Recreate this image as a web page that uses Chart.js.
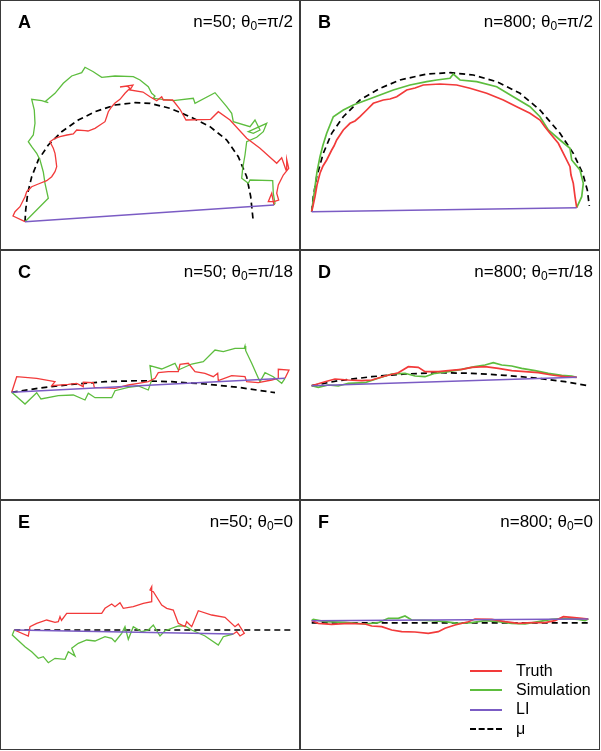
<!DOCTYPE html>
<html>
<head>
<meta charset="utf-8">
<script src="https://cdn.jsdelivr.net/npm/chart.js@4/dist/chart.umd.min.js"></script>
<style>
html,body{margin:0;padding:0;background:#fff;}
#fig{position:relative;width:601px;height:751px;overflow:hidden;background:#fff;font-family:"Liberation Sans",Arial,sans-serif;color:#000;}
canvas{position:absolute;}
.box{position:absolute;box-sizing:border-box;border:1px solid #3a3a3a;pointer-events:none;}
.lab{position:absolute;font-size:18px;font-weight:bold;line-height:20px;}
.ttl{position:absolute;font-size:17px;line-height:20px;text-align:right;white-space:nowrap;}
.ttl sub{font-size:12px;vertical-align:-3px;line-height:0;}
.lg{position:absolute;font-size:16px;line-height:20px;white-space:nowrap;}
.sw{position:absolute;width:32px;height:0;}
</style>
</head>
<body>
<div id="fig"></div>
<script>
// ---- data (figure pixel units) ----
const panelLabels = ['A','B','C','D','E','F'];
const panelN = ['50','800','50','800','50','800'];
const panelTheta = ['π/2','π/2','π/18','π/18','0','0'];
const legendLabels = ['Truth','Simulation','LI','μ'];

const truthA = [[25,221.7],[13,216],[15,211.7],[20,206.7],[25,196.7],[26.7,191.7],[31.7,186.7],[38.3,184],[46.7,180.7],[51.7,176.7],[55,171.7],[56.7,166.7],[55.7,158.3],[55,153.3],[53.3,148.3],[50,141.7],[55,138.3],[60,136.7],[67,135],[73.3,134],[76.7,130],[85,130.7],[88,131],[95,128.3],[100,125],[105,121.7],[106.7,116.7],[108.3,111.7],[111.7,106.7],[115,103],[120,99.3],[125,93.3],[130,88.3],[127,86],[120,87],[133,85],[130,90],[143,92],[150,96.7],[156.7,100.7],[161.7,96.7],[163.3,100],[172.7,100],[180,109.3],[186,120],[210.7,119.3],[218.3,111.7],[230,120],[246.7,138.3],[260,148.3],[276.7,163.3],[281.7,157.7],[286,170],[286.7,159.3],[288.7,168.3],[283.3,175],[278.3,185],[276.7,193.3],[278.7,200],[274,201.7],[268.3,201.7],[271.7,193.3],[274,205]];
const simA = [[25,221.7],[48.3,198.3],[45,183.3],[43.3,172],[40,160],[36.7,153.3],[31.7,146.7],[28.3,141.7],[33.3,135],[35,123.3],[34.3,110],[31.7,99.3],[41.7,100.7],[48.3,102.7],[45,101.7],[55,93.3],[63.3,83.3],[71.7,76],[81.7,72.7],[85,67.3],[93.3,71.7],[101.7,77.3],[115,76],[133.3,76.7],[140,80],[148.3,86.7],[151.7,93.3],[155,96],[153.3,98.3],[173.3,100.7],[193.3,98.3],[195,103.3],[215,92.7],[226.7,106.7],[231.7,113.3],[233.3,121.7],[250,126.7],[255,120],[260,130],[253.3,133.3],[248.3,131.7],[266.7,123.3],[263.3,131.7],[256.7,137.3],[246.7,141.7],[245,155],[242.7,168.3],[241.7,178.3],[248.3,183.3],[250,180],[272.7,180.7],[273.3,193.3],[275,203.3],[274,205]];
const liA = [[25,221.7],[274,205]];
const muA = [[25,221.7],[25.7,210],[27.7,193.3],[31.7,176.7],[38.3,160],[48.3,145],[61.7,131.7],[78.3,120],[95,111.7],[115,105],[135,102.7],[150,103.3],[170,108.3],[190,116.7],[210,126.7],[226.7,140],[238.3,156.7],[246.7,176.7],[250.7,196.7],[253.3,221.7]];

const truthB = [[311.7,211.7],[315,196.7],[317,185],[320,173.3],[323,166],[326.7,160],[331.7,150],[334,146],[336.7,140],[343.3,130],[350,123.3],[355,121],[360,116.7],[366.7,110],[373.3,103.3],[383.3,100],[390,99],[396.7,96.7],[406.7,90],[415,88],[423.3,85],[440,84],[456.7,85],[470,88.3],[486.7,93.3],[503.3,100],[516.7,106.7],[530,113.3],[540,120],[545,127],[550,133.3],[558.3,143.3],[565,156.7],[570,166.7],[571,175],[573.3,183.3],[575,196.7],[576.7,207.7]];
const simB = [[311.7,211.7],[315,186.7],[317,172],[320,156.7],[323,145],[326.7,133.3],[333.3,116.7],[343.3,110],[353.3,105],[366.7,100],[380,95],[393.3,90],[410,85],[426.7,81.7],[436.7,80],[450,78.3],[453.3,74],[460,80],[476.7,81.7],[496.7,86.7],[513.3,96.7],[530,106.7],[540,116.7],[548.3,130],[560,140],[570,148.3],[571.7,160],[580,170],[583.3,183.3],[581.7,196.7],[576.7,207.7]];
const liB = [[311.7,211.7],[576.7,207.7]];
const muB = [[311.7,211.7],[313.3,196.7],[316.7,176.7],[323.3,153.3],[331.7,133.3],[343.3,116.7],[360,100],[380,88.3],[400,80],[426.7,74],[450,72.7],[473.3,75],[496.7,81.7],[520,93.3],[540,110],[560,133.3],[573.3,153.3],[582.7,173.3],[587.3,190],[589.3,206]];

const truthC = [[11.7,392.3],[16.7,376.7],[36.7,378.3],[55,381.7],[51.7,385.7],[68.3,384.3],[76.7,383.3],[83.3,386.7],[83.3,382.3],[93.3,382.7],[94.3,387.3],[115,388.3],[128.3,385],[138.3,383.3],[148.3,381.7],[155,378.3],[158.3,372.7],[168.3,371.7],[178.3,371.7],[180,364.3],[188.3,363.3],[195,371.7],[205,373.3],[213.3,376.7],[217.7,373.3],[218.3,380.7],[231.7,375.7],[245,376.7],[246.7,381.7],[258.3,382.7],[271.7,380],[278.3,378.3],[278.3,369.3],[289,370],[285,378.3]];
const simC = [[11.7,392.3],[25,404],[36.7,392.7],[41,399],[58.3,395.7],[73.3,395],[85,400],[88.3,393.3],[95,397.7],[111.7,397.7],[115,390.7],[128.3,387.3],[138.3,386],[148.3,390],[151.7,380],[150,365.7],[161.7,369],[175,363.3],[178.3,370],[191.7,364],[203.3,361.7],[215,350],[223.3,351.7],[235,348.3],[244.3,348.3],[245,346],[245.7,350.7],[251.7,363.3],[257.7,376.7],[260,381.7],[265,372.7],[273.3,376.7],[281.7,383.3],[285,378.3]];
const liC = [[11.7,392.3],[285,378.3]];
const muC = [[11.7,392.3],[38.3,388.3],[71.7,384.3],[105,381.7],[138.3,380.7],[171.7,381.7],[205,384],[238.3,387.3],[275,392.7]];

const truthD = [[311.7,385.7],[325,381.7],[335,379],[348.3,380],[361.7,380.7],[371.7,380],[385,376],[398.3,372.7],[408.3,366.7],[418.3,367.3],[425,371.7],[438.3,371.7],[448.3,370.7],[461.7,369.3],[471.7,367.3],[485,366.7],[498.3,368.3],[511.7,370.7],[525,371.7],[538.3,372.7],[551.7,375],[565,376.7],[576.7,377.3]];
const simD = [[311.7,385.7],[318.3,387.3],[328.3,385],[338.3,386],[348.3,383.3],[365,382.7],[378.3,378.3],[391.7,374],[405,373.3],[415,376],[425,376.7],[435,373.3],[448.3,371.7],[461.7,369.3],[475,366.7],[485,365],[493.3,362.7],[501.7,365],[511.7,366],[521.7,368.3],[535,370.7],[548.3,373.3],[561.7,375.3],[571.7,376],[576.7,377.3]];
const liD = [[311.7,385.7],[576.7,377.3]];
const muD = [[311.7,385.7],[338.3,380.7],[371.7,376.7],[405,374],[438.3,372.7],[471.7,373.3],[505,375.3],[538.3,378.3],[565,381.7],[590,386]];

const truthE = [[14.3,630],[28.3,636],[30,626.7],[36.7,623.3],[46.7,620],[55,622.3],[58.3,621.7],[60,616.7],[61.5,620.5],[66.7,613.3],[85,613.3],[101.7,613.3],[105,608.3],[111.7,604],[115,606.7],[120,602.7],[123.3,608.3],[133.3,606.7],[143.3,603.3],[151.7,601.7],[151.7,586.7],[150,590],[153.3,591.7],[161.7,605],[166.7,608.3],[173.3,610],[178.3,623.3],[185,626.7],[186.7,621.7],[191.7,626.7],[198.3,610.7],[211.7,615],[225,617.3],[235,626.7],[238.3,624],[244.3,633.3],[240,636],[236.7,631.7],[233.3,634]];
const simE = [[14.3,630],[12.3,635],[25,646.7],[31.7,651.7],[38.3,658.3],[43.3,656.7],[48.3,662.7],[55,658.3],[65,659.3],[68.3,651.7],[75,656],[71.7,648.3],[78.3,643.3],[86.7,640],[95,641],[105,636.7],[111.7,638.3],[115,641.7],[121.7,633.3],[125,626.7],[128.3,639.3],[133.3,626.7],[141.7,631.7],[148.3,630],[153.3,625],[160,636],[165,630.7],[178.3,626],[185,626],[191.7,630],[205,636],[218.3,645],[223.3,636.7],[233.3,634]];
const liE = [[14.3,630],[233.3,634]];
const muE = [[14.3,630],[291.7,630]];

const truthF = [[311.7,620.7],[318.3,623.3],[331.7,624.3],[348.3,623.3],[365,624],[371.7,626],[381.7,626.7],[391.7,630],[401.7,631.7],[415,632],[428.3,633.3],[438.3,631.7],[445,628.3],[455,625],[468.3,621.7],[475,619],[491.7,619.3],[505,621.7],[518.3,623.3],[531.7,622.7],[545,622.7],[555,620.7],[563.3,616.7],[571.7,617.3],[581.7,618.3],[588.3,619]];
const simF = [[311.7,620.7],[313.3,619.3],[325,621.7],[345,622.3],[365,624],[378.3,622.7],[388.3,618.3],[398.3,618.3],[405,616],[411.7,620],[431.7,620.7],[445,621.7],[458.3,623.3],[471.7,622.7],[485,620.7],[498.3,621.7],[511.7,623.3],[525,624],[538.3,621.7],[551.7,619.3],[565,618.3],[578.3,619.3],[585,620.7],[588.3,619]];
const liF = [[311.7,620.7],[588.3,619]];
const muF = [[311.7,622.8],[588.3,622.8]];

// ---- layout / style ----
const RED = '#f23a3a', GREEN = '#5dbd3e', PURPLE = '#7b5cc4', BLACK = '#000';
const cols = [{x:0,w:300},{x:300,w:301}];
const rows = [{y:0,h:250},{y:250,h:250},{y:500,h:251}];
const series = [
  [truthA, simA, liA, muA],[truthB, simB, liB, muB],
  [truthC, simC, liC, muC],[truthD, simD, liD, muD],
  [truthE, simE, liE, muE],[truthF, simF, liF, muF]
];
const fig = document.getElementById('fig');
const toXY = a => a.map(p => ({x:p[0], y:p[1]}));

series.forEach((s, i) => {
  const c = cols[i % 2], r = rows[Math.floor(i / 2)];
  const pathW = (i % 2 === 1) ? 1.7 : 1.3;
  const cv = document.createElement('canvas');
  cv.width = c.w; cv.height = r.h;
  cv.style.left = c.x + 'px'; cv.style.top = r.y + 'px';
  cv.style.width = c.w + 'px'; cv.style.height = r.h + 'px';
  fig.appendChild(cv);
  const base = {showLine:true, pointRadius:0, pointHoverRadius:0, tension:0, fill:false};
  new Chart(cv.getContext('2d'), {
    type:'scatter',
    data:{datasets:[
      Object.assign({label:legendLabels[2], data:toXY(s[2]), borderColor:PURPLE, borderWidth:1.4, order:0}, base),
      Object.assign({label:legendLabels[0], data:toXY(s[0]), borderColor:RED, borderWidth:pathW, order:1}, base),
      Object.assign({label:legendLabels[1], data:toXY(s[1]), borderColor:GREEN, borderWidth:pathW, order:2}, base),
      Object.assign({label:legendLabels[3], data:toXY(s[3]), borderColor:BLACK, borderWidth:1.7, borderDash:[6,4], order:3}, base)
    ]},
    options:{
      responsive:false, animation:false, events:[],
      layout:{padding:0},
      plugins:{legend:{display:false}, tooltip:{enabled:false}, title:{display:false}},
      scales:{
        x:{type:'linear', display:false, min:c.x, max:c.x + c.w},
        y:{type:'linear', display:false, min:r.y, max:r.y + r.h, reverse:true}
      }
    }
  });
  // frame
  const b = document.createElement('div');
  b.className = 'box';
  b.style.left = c.x + 'px'; b.style.top = r.y + 'px';
  b.style.width = '300px'; b.style.height = '250px';
  fig.appendChild(b);
  // panel letter
  const l = document.createElement('div');
  l.className = 'lab'; l.textContent = panelLabels[i];
  l.style.left = (c.x + 18) + 'px'; l.style.top = (r.y + 12) + 'px';
  fig.appendChild(l);
  // condition text
  const t = document.createElement('div');
  t.className = 'ttl';
  t.innerHTML = 'n=' + panelN[i] + '; θ<sub>0</sub>=' + panelTheta[i];
  t.style.left = c.x + 'px'; t.style.width = '293px'; t.style.top = (r.y + 11.5) + 'px';
  fig.appendChild(t);
});

// legend (panel F)
const lgColors = [RED, GREEN, PURPLE, BLACK];
legendLabels.forEach((lab, k) => {
  const y = 671 + k * 19.4;
  const sw = document.createElement('div');
  sw.className = 'sw';
  sw.style.left = '470px'; sw.style.top = (y - 1) + 'px';
  sw.style.borderTop = (k === 3 ? '2px dashed ' : '2px solid ') + lgColors[k];
  fig.appendChild(sw);
  const tx = document.createElement('div');
  tx.className = 'lg'; tx.textContent = lab;
  tx.style.left = '516px'; tx.style.top = (y - 10.5) + 'px';
  fig.appendChild(tx);
});
</script>
</body>
</html>
